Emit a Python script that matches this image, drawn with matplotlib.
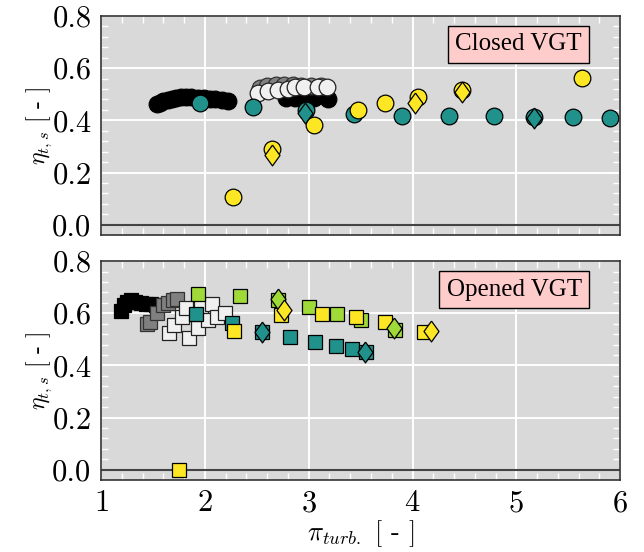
import matplotlib
matplotlib.use("Agg")
import matplotlib.pyplot as plt
from matplotlib.ticker import MultipleLocator, FuncFormatter

plt.rcParams['mathtext.fontset'] = 'cm'
plt.rcParams['font.family'] = 'serif'
plt.rcParams['font.serif'] = ['cmr10', 'DejaVu Serif']
plt.rcParams['axes.formatter.use_mathtext'] = True
plt.rcParams['axes.unicode_minus'] = False

# colours per speed line
C_BLACK = '#000000'
C_GRAY = '#808080'
C_WHITE = '#f0f0f0'
C_TEAL = '#21918c'
C_GREEN = '#a0da39'
C_YELLOW = '#fde725'

# ---- closed VGT (circles) ----
cl_black_x = [1.54, 1.57, 1.60, 1.64, 1.68, 1.72, 1.77, 1.82, 1.87, 1.93, 1.99, 2.05, 2.10, 2.16, 2.22,
              2.78, 2.87, 2.95, 3.05, 3.19]
cl_black_y = [0.462, 0.468, 0.474, 0.479, 0.483, 0.486, 0.488, 0.489, 0.489, 0.487, 0.484, 0.482, 0.480,
              0.478, 0.476, 0.487, 0.485, 0.483, 0.485, 0.480]
cl_gray_x = [2.53, 2.60, 2.68, 2.76, 2.85, 2.93, 3.02, 3.12]
cl_gray_y = [0.525, 0.532, 0.535, 0.535, 0.534, 0.533, 0.532, 0.530]
cl_white_x = [2.515, 2.61, 2.70, 2.80, 2.87, 2.95, 3.085, 3.18]
cl_white_y = [0.506, 0.512, 0.518, 0.522, 0.526, 0.526, 0.528, 0.529]
cl_teal_x = [1.95, 2.46, 2.97, 3.44, 3.90, 4.35, 4.78, 5.17, 5.55, 5.90]
cl_teal_y = [0.468, 0.452, 0.440, 0.425, 0.417, 0.417, 0.417, 0.413, 0.413, 0.410]
cl_yellow_x = [2.27, 2.65, 3.05, 3.47, 3.73, 4.05, 4.48, 5.63]
cl_yellow_y = [0.105, 0.290, 0.383, 0.440, 0.467, 0.490, 0.518, 0.564]
cl_teal_dx = [2.96, 5.17]
cl_teal_dy = [0.429, 0.410]
cl_yellow_dx = [2.65, 4.02, 4.48]
cl_yellow_dy = [0.267, 0.467, 0.510]

# ---- opened VGT (squares) ----
op_black_x = [1.19, 1.22, 1.25, 1.29, 1.33, 1.38, 1.43, 1.48, 1.53]
op_black_y = [0.610, 0.630, 0.645, 0.650, 0.645, 0.640, 0.635, 0.635, 0.630]
op_gray_x = [1.44, 1.47, 1.54, 1.60, 1.64, 1.69, 1.73]
op_gray_y = [0.560, 0.565, 0.600, 0.630, 0.640, 0.650, 0.656]
op_white_x = [1.65, 1.70, 1.78, 1.82, 1.85, 1.93, 1.96, 2.03, 2.07, 2.12, 2.19]
op_white_y = [0.523, 0.554, 0.585, 0.620, 0.504, 0.542, 0.623, 0.573, 0.635, 0.585, 0.600]
op_teal_x = [1.91, 2.26, 2.55, 2.82, 3.06, 3.26, 3.42, 3.55]
op_teal_y = [0.597, 0.562, 0.530, 0.508, 0.488, 0.473, 0.462, 0.450]
op_green_x = [1.93, 2.34, 2.70, 3.00, 3.27, 3.50, 3.83]
op_green_y = [0.673, 0.665, 0.650, 0.623, 0.597, 0.573, 0.535]
op_yellow_x = [1.75, 2.28, 2.73, 3.13, 3.46, 3.73, 4.11]
op_yellow_y = [0.000, 0.531, 0.592, 0.596, 0.585, 0.565, 0.527]
op_teal_dx = [2.55, 3.54]
op_teal_dy = [0.527, 0.450]
op_green_dx = [2.70, 3.82]
op_green_dy = [0.654, 0.542]
op_yellow_dx = [2.76, 4.18]
op_yellow_dy = [0.611, 0.531]

DIAMOND = [(0, 1), (0.72, 0), (0, -1), (-0.72, 0), (0, 1)]


def pts(ax, x, y, color, marker, ms, edge='k'):
    ax.plot(x, y, linestyle='none', marker=marker, markersize=ms,
            markerfacecolor=color, markeredgecolor=edge, markeredgewidth=0.9)


def style_axes(ax, label):
    ax.set_facecolor('#d9d9d9')
    ax.set_xlim(1, 6)
    ax.set_ylim(-0.04, 0.8)
    ax.xaxis.set_major_locator(MultipleLocator(1))
    ax.xaxis.set_minor_locator(MultipleLocator(0.2))
    ax.yaxis.set_major_locator(MultipleLocator(0.2))
    ax.yaxis.set_minor_locator(MultipleLocator(0.04))
    ax.yaxis.set_major_formatter(FuncFormatter(lambda v, p: f'{v:.1f}'))
    ax.grid(True, which='major', color='white', linewidth=1.4)
    ax.set_axisbelow(True)
    ax.tick_params(which='both', direction='in', top=True, right=True, colors='white',
                   labelcolor='black', labelsize=22)
    ax.tick_params(which='major', length=9, width=1.2, pad=7)
    ax.tick_params(which='minor', length=5, width=1.0)
    for s in ax.spines.values():
        s.set_color('#333333')
        s.set_linewidth(1.2)
    ax.axhline(0, color='#444444', linewidth=1.5, zorder=1.5)
    ax.set_ylabel(r'$\eta_{t,s}$ [ - ]', fontsize=17)
    ax.yaxis.set_label_coords(-0.09, 0.5)
    ax.text(0.926, 0.87, label, transform=ax.transAxes, ha='right', va='center',
            fontsize=18, family='Liberation Serif',
            bbox=dict(boxstyle='square,pad=0.3', facecolor='#ffcccc', edgecolor='black', linewidth=1.0))


fig = plt.figure(figsize=(6.44, 5.52), dpi=100)
ax1 = fig.add_axes([0.157, 0.574, 0.806, 0.397])
ax2 = fig.add_axes([0.157, 0.130, 0.806, 0.397], sharex=ax1)

style_axes(ax1, 'Closed VGT')
style_axes(ax2, 'Opened VGT')

# closed VGT
pts(ax1, cl_black_x, cl_black_y, C_BLACK, 'o', 12)
pts(ax1, cl_gray_x, cl_gray_y, C_GRAY, 'o', 12, edge='#333333')
pts(ax1, cl_white_x, cl_white_y, C_WHITE, 'o', 12, edge='#222222')
pts(ax1, cl_teal_x, cl_teal_y, C_TEAL, 'o', 12)
pts(ax1, cl_yellow_x, cl_yellow_y, C_YELLOW, 'o', 12)
pts(ax1, cl_teal_dx, cl_teal_dy, C_TEAL, DIAMOND, 15)
pts(ax1, cl_yellow_dx, cl_yellow_dy, C_YELLOW, DIAMOND, 15)

# opened VGT
pts(ax2, op_black_x, op_black_y, C_BLACK, 's', 9.5)
pts(ax2, op_gray_x, op_gray_y, C_GRAY, 's', 9.5, edge='#333333')
pts(ax2, op_white_x, op_white_y, C_WHITE, 's', 9.5, edge='#222222')
pts(ax2, op_teal_x, op_teal_y, C_TEAL, 's', 9.5)
pts(ax2, op_green_x, op_green_y, C_GREEN, 's', 9.5)
pts(ax2, op_yellow_x, op_yellow_y, C_YELLOW, 's', 9.5)
pts(ax2, op_teal_dx, op_teal_dy, C_TEAL, DIAMOND, 15)
pts(ax2, op_green_dx, op_green_dy, C_GREEN, DIAMOND, 15)
pts(ax2, op_yellow_dx, op_yellow_dy, C_YELLOW, DIAMOND, 15)

plt.setp(ax1.get_xticklabels(), visible=False)
ax2.set_xlabel(r'$\pi_{turb.}$ [ - ]', fontsize=19)
ax2.xaxis.set_label_coords(0.5, -0.175)

fig.savefig('out.png', dpi=100)
